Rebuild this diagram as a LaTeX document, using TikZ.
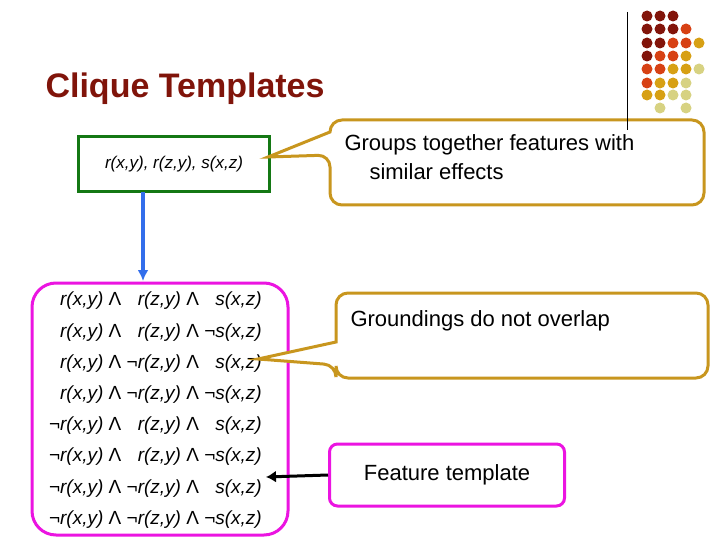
\documentclass[tikz,border=0pt]{standalone}
\usepackage{fontspec}
\setmainfont{Liberation Sans}
\usetikzlibrary{arrows.meta}
\definecolor{titlered}{RGB}{128,20,10}
\definecolor{gold}{RGB}{200,150,30}
\definecolor{dkr}{RGB}{130,20,10}
\definecolor{orr}{RGB}{215,65,20}
\definecolor{gld}{RGB}{215,160,20}
\definecolor{pale}{RGB}{215,210,130}
\definecolor{pink}{RGB}{235,20,225}
\definecolor{grn}{RGB}{20,120,20}
\definecolor{blu}{RGB}{50,110,235}
\newcommand{\nopad}{\phantom{¬}}
\newcommand{\lnd}{\textup{Λ}}
\begin{document}
\begin{tikzpicture}[x=1pt,y=-1pt,
  callout/.style={draw=gold,line width=3pt,rounded corners=12pt,fill=white}]
\useasboundingbox (0,0) rectangle (720,540);
% decoration
\foreach \r/\cols in {16/{dkr,dkr,dkr},29/{dkr,dkr,dkr,orr},43/{dkr,dkr,orr,orr,gld},
  56/{dkr,orr,orr,gld},69/{orr,orr,gld,gld,pale},83/{orr,gld,gld,pale},95/{gld,gld,pale,pale}}{
  \foreach \c [count=\i] in \cols {\fill[\c] ({634+13*\i},\r) circle (5.5);}}
\fill[pale] (660,108) circle (5.5); \fill[pale] (686,108) circle (5.5);
% title
\node[anchor=base west,text=titlered,font=\bfseries\fontsize{34}{36}\selectfont] (title) at (42,98) {Clique Templates};
% template box
\node[draw=grn,line width=3pt,minimum width=191pt,minimum height=55pt,font=\itshape\fontsize{17}{20}\selectfont] (tmpl) at (174,164) {r(x,y), r(z,y), s(x,z)};
% groundings
\draw[pink,line width=3pt,rounded corners=24pt] (32,283) rectangle (288,535);
\node[anchor=north east,align=right,inner sep=0pt,font=\itshape\fontsize{19}{31.2}\selectfont] (grd) at (262,292) {%
r(x,y) \lnd{} \nopad r(z,y) \lnd{} \nopad s(x,z)\\
r(x,y) \lnd{} \nopad r(z,y) \lnd{} ¬s(x,z)\\
r(x,y) \lnd{} ¬r(z,y) \lnd{} \nopad s(x,z)\\
r(x,y) \lnd{} ¬r(z,y) \lnd{} ¬s(x,z)\\
¬r(x,y) \lnd{} \nopad r(z,y) \lnd{} \nopad s(x,z)\\
¬r(x,y) \lnd{} \nopad r(z,y) \lnd{} ¬s(x,z)\\
¬r(x,y) \lnd{} ¬r(z,y) \lnd{} \nopad s(x,z)\\
¬r(x,y) \lnd{} ¬r(z,y) \lnd{} ¬s(x,z)};
\coordinate (atop) at (143,192);
\coordinate (abot) at (143,281);
\draw[blu,line width=3.5pt,-{Latex[length=11pt,width=11pt]}] (atop) -- (abot);
% callout 1
\draw[callout] (330,132) -- (330,120) -- (704,120) -- (704,205) -- (330,205) -- (330,155) [sharp corners]-- (268,157) -- cycle;
\fill[white] (333,134) rectangle (340,153);
\node[anchor=base west,align=left,font=\fontsize{22}{29}\selectfont] (c1) at (341,180) {Groups together features with\\\hspace{25pt}similar effects};
\draw[line width=0.6pt] (627,12) -- (627,130);
% callout 2
\draw[callout] (336,342) -- (336,293) -- (708,293) -- (708,378) -- (336,378) -- (336,365) [sharp corners]-- (258,359) -- cycle;
\fill[white] (339,344) rectangle (346,363);
\node[anchor=base west,font=\fontsize{22}{26}\selectfont] (c2) at (347,326) {Groundings do not overlap};
% feature template
\node[draw=pink,line width=3pt,rounded corners=8pt,minimum width=235pt,minimum height=62pt,font=\fontsize{22}{26}\selectfont] (ft) at (447,475) {Feature template};
\coordinate (ftip) at (266,477);
\draw[line width=3pt,-{Latex[length=10pt,width=12pt]}] (ft.west) -- (ftip);
\end{tikzpicture}
\end{document}
